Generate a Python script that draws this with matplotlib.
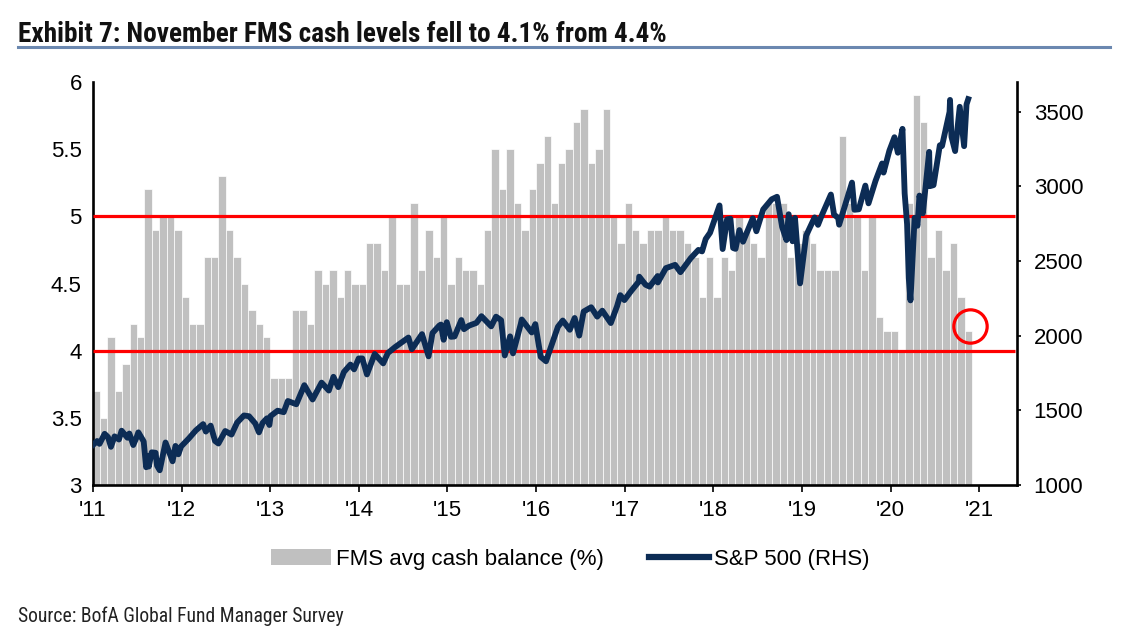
import matplotlib
matplotlib.use('Agg')
import matplotlib.pyplot as plt
import matplotlib.dates as mdates
from matplotlib.patches import Patch
from matplotlib.lines import Line2D
import pandas as pd


TITLE = 'Exhibit 7: November FMS cash levels fell to 4.1% from 4.4%'
SOURCE = 'Source: BofA Global Fund Manager Survey'

# FMS average cash balance (%), monthly Jan 2011 - Nov 2020
cash_2011 = [3.7, 3.5, 4.1, 3.7, 3.9, 4.2, 4.1, 5.2, 4.9, 5.0, 5.0, 4.9]
cash_2012 = [4.4, 4.2, 4.2, 4.7, 4.7, 5.3, 4.9, 4.7, 4.5, 4.3, 4.2, 4.1]
cash_2013 = [3.8, 3.8, 3.8, 4.3, 4.3, 4.2, 4.6, 4.5, 4.6, 4.4, 4.6, 4.5]
cash_2014 = [4.5, 4.8, 4.8, 4.6, 5.0, 4.5, 4.5, 5.1, 4.6, 4.9, 4.7, 5.0]
cash_2015 = [4.5, 4.7, 4.6, 4.6, 4.5, 4.9, 5.5, 5.2, 5.5, 5.1, 4.9, 5.2]
cash_2016 = [5.4, 5.6, 5.1, 5.4, 5.5, 5.7, 5.8, 5.4, 5.5, 5.8, 5.0, 4.8]
cash_2017 = [5.1, 4.9, 4.8, 4.9, 4.9, 5.0, 4.9, 4.9, 4.8, 4.7, 4.4, 4.7]
cash_2018 = [4.4, 4.7, 4.6, 5.0, 4.9, 4.8, 4.7, 5.1, 5.1, 5.1, 4.7, 4.8]
cash_2019 = [4.9, 4.8, 4.6, 4.6, 4.6, 5.6, 5.1, 5.0, 4.6, 5.0, 4.25, 4.15]
cash_2020 = [4.15, 4.0, 5.1, 5.9, 5.7, 4.7, 4.9, 4.6, 4.8, 4.4, 4.15]
cash = (cash_2011 + cash_2012 + cash_2013 + cash_2014 + cash_2015
        + cash_2016 + cash_2017 + cash_2018 + cash_2019 + cash_2020)

# S&P 500 level (RHS)
spx_dates = [
    '2011-01-03', '2011-01-18', '2011-01-28', '2011-02-18', '2011-03-04', '2011-03-16',
    '2011-03-31', '2011-04-18', '2011-04-29', '2011-05-23', '2011-05-31', '2011-06-16',
    '2011-06-30', '2011-07-07', '2011-07-29', '2011-08-08', '2011-08-17', '2011-08-19',
    '2011-08-31', '2011-09-16', '2011-09-22', '2011-10-03', '2011-10-27', '2011-11-25',
    '2011-12-07', '2011-12-19', '2011-12-30',
    '2012-01-31', '2012-02-29', '2012-03-30', '2012-04-10', '2012-04-30', '2012-05-18',
    '2012-06-01', '2012-06-29', '2012-07-25', '2012-08-17', '2012-09-14', '2012-10-05',
    '2012-10-31', '2012-11-15', '2012-11-30', '2012-12-18', '2012-12-28',
    '2013-01-02', '2013-01-31', '2013-02-25', '2013-03-14', '2013-04-18', '2013-05-21',
    '2013-06-24', '2013-07-31', '2013-08-30', '2013-09-18', '2013-10-08', '2013-10-31',
    '2013-11-27', '2013-12-12', '2013-12-31',
    '2014-01-15', '2014-02-03', '2014-03-07', '2014-04-11', '2014-04-30', '2014-05-30',
    '2014-06-30', '2014-07-24', '2014-08-07', '2014-09-18', '2014-10-15', '2014-10-31',
    '2014-11-28', '2014-12-05', '2014-12-16', '2014-12-29',
    '2015-01-15', '2015-01-30', '2015-02-27', '2015-03-10', '2015-03-31', '2015-04-30',
    '2015-05-21', '2015-06-30', '2015-07-20', '2015-08-10', '2015-08-25', '2015-09-16',
    '2015-09-28', '2015-10-30', '2015-11-03', '2015-12-14', '2015-12-29',
    '2016-01-20', '2016-02-11', '2016-03-31', '2016-04-20', '2016-05-19', '2016-06-08',
    '2016-06-27', '2016-07-15', '2016-08-15', '2016-09-09', '2016-09-30', '2016-11-04',
    '2016-11-30', '2016-12-13', '2016-12-30',
    '2017-01-26', '2017-02-28', '2017-03-01', '2017-03-27', '2017-04-13', '2017-05-16',
    '2017-05-17', '2017-06-19', '2017-07-27', '2017-08-18', '2017-09-29', '2017-10-31',
    '2017-11-15', '2017-11-30', '2017-12-18',
    '2018-01-26', '2018-02-08', '2018-02-26', '2018-03-12', '2018-03-23', '2018-04-02',
    '2018-04-18', '2018-05-03', '2018-06-12', '2018-06-27', '2018-07-25', '2018-08-29',
    '2018-09-20', '2018-10-11', '2018-10-29', '2018-11-07', '2018-11-23', '2018-12-03',
    '2018-12-24',
    '2019-01-18', '2019-02-22', '2019-03-08', '2019-03-22', '2019-04-30', '2019-05-13',
    '2019-05-30', '2019-06-03', '2019-07-26', '2019-08-05', '2019-08-23', '2019-09-19',
    '2019-10-02', '2019-10-31', '2019-11-27', '2019-12-03', '2019-12-27',
    '2020-01-17', '2020-01-31', '2020-02-19', '2020-02-28', '2020-03-09', '2020-03-16',
    '2020-03-23', '2020-04-09', '2020-04-21', '2020-04-29', '2020-05-13', '2020-06-08',
    '2020-06-11', '2020-06-26', '2020-07-22', '2020-07-31', '2020-08-31', '2020-09-02',
    '2020-09-08', '2020-09-23', '2020-10-12', '2020-10-30', '2020-11-09', '2020-11-16',
]
spx_values = [
    1271, 1295, 1276, 1343, 1321, 1256,
    1326, 1305, 1364, 1317, 1345, 1268,
    1321, 1353, 1292, 1119, 1193, 1124,
    1219, 1216, 1130, 1099, 1285, 1159,
    1262, 1206, 1258,
    1312, 1366, 1408, 1358, 1398, 1295,
    1278, 1362, 1338, 1418, 1466, 1461,
    1412, 1353, 1416, 1447, 1402,
    1462, 1498, 1488, 1563, 1541, 1669,
    1573, 1686, 1633, 1725, 1656, 1757,
    1807, 1775, 1848,
    1848, 1741, 1878, 1815, 1884, 1924,
    1960, 1988, 1910, 2011, 1862, 2018,
    2068, 2075, 1973, 2091,
    1993, 1995, 2105, 2044, 2068, 2086,
    2131, 2063, 2128, 2104, 1868, 1996,
    1882, 2079, 2109, 2022, 2078,
    1859, 1829, 2060, 2102, 2040, 2119,
    2001, 2162, 2191, 2128, 2168, 2085,
    2199, 2272, 2239,
    2298, 2364, 2396, 2342, 2329, 2400,
    2357, 2453, 2475, 2426, 2519, 2575,
    2565, 2648, 2690,
    2873, 2581, 2780, 2784, 2588, 2582,
    2708, 2630, 2787, 2700, 2846, 2914,
    2931, 2729, 2641, 2814, 2633, 2790,
    2351,
    2671, 2793, 2743, 2801, 2946, 2812,
    2789, 2744, 3026, 2844, 2847, 3006,
    2887, 3038, 3154, 3093, 3240,
    3330, 3226, 3386, 2954, 2747, 2386,
    2237, 2790, 2737, 2939, 2820, 3232,
    3002, 3009, 3276, 3271, 3500, 3580,
    3332, 3237, 3534, 3270, 3550, 3585,
]

ref_levels = [5.0, 4.0]
latest_mark = ('2020-11-23', 4.18)
year_ticks = list(range(2011, 2022))
year_labels = ["'%02d" % (y % 100) for y in year_ticks]

GRAY = '#c0c0c0'
NAVY = '#0c2c55'
RED = '#ff0000'
NARROW = ['Roboto Condensed', 'Open Sans Condensed', 'Noto Sans Condensed',
          'Liberation Sans Narrow', 'Liberation Sans', 'DejaVu Sans']
plt.rcParams['font.family'] = ['Liberation Sans', 'DejaVu Sans']

fig = plt.figure(figsize=(11.27, 6.42), dpi=100)
ax = fig.add_axes([0.0825, 0.2445, 0.8199, 0.6278])
ax2 = ax.twinx()

months = pd.date_range('2011-01-01', periods=len(cash), freq='MS')
next_months = pd.date_range('2011-02-01', periods=len(cash), freq='MS')
x_left = mdates.date2num(months)
widths = mdates.date2num(next_months) - x_left
ax.bar(x_left, cash, width=widths, align='edge', color=GRAY,
       edgecolor='white', linewidth=0.5, zorder=1)

x_end = mdates.date2num(pd.Timestamp('2021-06-05'))
x_start = mdates.date2num(pd.Timestamp('2011-01-01'))
for lvl in ref_levels:
    ax.plot([x_start, x_end - 7], [lvl, lvl], color=RED, lw=2.3, zorder=3,
            solid_capstyle='butt')
ax.plot(mdates.date2num(pd.Timestamp(latest_mark[0])), latest_mark[1], 'o',
        ms=24, mfc='none', mec=RED, mew=2.3, zorder=4)

ax2.plot(mdates.date2num(pd.to_datetime(spx_dates)), spx_values,
         color=NAVY, lw=4.2, solid_joinstyle='round', zorder=5)

ax.set_xlim(x_start, x_end)
ax.set_ylim(3, 6)
ax2.set_ylim(1000, 3700)
ax.set_yticks([3, 3.5, 4, 4.5, 5, 5.5, 6])
ax.set_yticklabels(['3', '3.5', '4', '4.5', '5', '5.5', '6'])
ax2.set_yticks([1000, 1500, 2000, 2500, 3000, 3500])
xt = [mdates.date2num(pd.Timestamp('%d-01-01' % y)) for y in year_ticks]
ax.set_xticks(xt)
ax.set_xticklabels(year_labels)

for sp in ['top', 'right']:
    ax.spines[sp].set_visible(False)
for sp in ['top', 'left', 'bottom']:
    ax2.spines[sp].set_visible(False)
ax.spines['left'].set_linewidth(1.9)
ax.spines['bottom'].set_linewidth(1.9)
ax2.spines['right'].set_linewidth(1.9)

ax.tick_params(axis='y', length=0, pad=8, labelsize=16)
ax.tick_params(axis='x', direction='out', length=5, width=1.2, pad=6, labelsize=16)
ax2.tick_params(axis='y', direction='out', length=3, width=1.2, pad=9, labelsize=16)

fig.text(0.016, 0.9455, TITLE, family=NARROW, fontstretch='condensed',
         fontweight='bold', fontsize=19.6, va='center', ha='left', color='#111111')
fig.add_artist(Line2D([0.016, 0.985], [0.9268, 0.9268], transform=fig.transFigure,
                      color='#6b88b0', lw=2.2))
fig.text(0.016, 0.0405, SOURCE, family=NARROW, fontstretch='condensed',
         fontsize=14.1, va='center', ha='left', color='#222222')

handles = [Patch(facecolor=GRAY, edgecolor='none'),
           Line2D([0], [0], color=NAVY, lw=4.5)]
fig.legend(handles, ['FMS avg cash balance (%)', 'S&P 500 (RHS)'],
           loc='center', bbox_to_anchor=(0.506, 0.129), ncol=2, frameon=False,
           fontsize=16, handlelength=2.7, handleheight=0.75, handletextpad=0.25,
           columnspacing=2.0)

fig.savefig('out.png', dpi=100)
